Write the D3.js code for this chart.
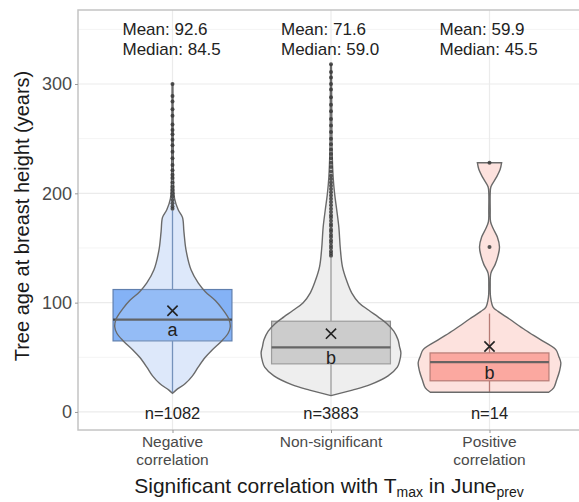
<!DOCTYPE html>
<html>
<head>
<meta charset="utf-8">
<script src="https://cdn.jsdelivr.net/npm/d3@7"></script>
<style>
  body { margin: 0; background: #fff; }
  svg { display: block; font-family: "Liberation Sans", Arial, sans-serif; }
</style>
</head>
<body>
<svg id="chart"></svg>
<script>
// groups and their summary stats
const groups = ['Negative correlation', 'Non-significant', 'Positive correlation'];
const groupTickLines = [['Negative', 'correlation'], ['Non-significant'], ['Positive', 'correlation']];
const sampleSizes = [1082, 3883, 14];
const means = [92.6, 71.6, 59.9];
const medians = [84.5, 59.0, 45.5];
const lowerQuartiles = [65, 44, 28.5];
const upperQuartiles = [112, 83, 54];
const whiskerLows = [17, 15, 18];
const whiskerHighs = [184, 141, 90];
const groupLetters = ['a', 'b', 'b'];
const yTicks = [0, 100, 200, 300];
const yMinorTicks = [50, 150, 250, 350];

const outliers = [
  [186, 188, 191, 194, 197, 200, 203, 206, 210, 214, 217, 221, 226, 232, 238, 244, 249, 254, 258, 263, 271, 277, 284, 289, 300],
  [143, 145, 147, 150, 152, 155, 157, 160, 162, 165, 167, 170, 172, 175, 178, 180, 183, 186, 189, 192, 195, 198, 201, 204,
   207, 210, 213, 216, 220, 224, 228, 232, 236, 240, 245, 250, 256, 262, 268, 275, 281, 288, 295, 300, 306, 311, 318],
  [151, 228]
];

// violin outlines: age (years) and relative density width
const violinAges = [
  [17, 20, 26, 33, 41, 50, 57, 65, 72, 78, 85, 95, 102, 110, 118, 130, 148, 165, 178, 185, 195, 210, 250, 300],
  [15, 20, 25, 33, 41, 46, 54, 60, 66, 74, 81, 87, 93, 100, 109, 120, 133, 150, 169, 185, 200, 215, 240, 280, 318],
  [18, 22, 29, 37, 45, 51, 57, 66, 75, 85, 92, 96, 105, 115, 127, 135, 143, 151, 160, 168, 174, 185, 200, 206, 215, 222, 228]
];
const violinWidths = [
  [0, 0.05, 0.18, 0.28, 0.36, 0.46, 0.56, 0.69, 0.78, 0.81, 0.79, 0.69, 0.6, 0.46, 0.36, 0.26, 0.19, 0.16, 0.14, 0.08, 0.03, 0.015, 0.01, 0.006],
  [0, 0.3, 0.55, 0.8, 0.93, 0.96, 0.98, 0.96, 0.94, 0.88, 0.78, 0.66, 0.53, 0.39, 0.29, 0.22, 0.16, 0.13, 0.11, 0.08, 0.05, 0.03, 0.015, 0.01, 0.006],
  [0.83, 0.9, 0.94, 0.98, 1.0, 0.97, 0.93, 0.72, 0.5, 0.28, 0.12, 0.05, 0.015, 0.01, 0.02, 0.08, 0.12, 0.14, 0.11, 0.05, 0.015, 0.01, 0.01, 0.02, 0.1, 0.15, 0.17]
];

(() => {

  document.addEventListener("DOMContentLoaded", (event) => {
    drawChart();
  });

  function drawChart(){
    const svgWidth = 579;
    const svgHeight = 502;
    const panel = { left: 78, right: 585, top: 10, bottom: 430 };

    const violinFill = ['#dde8fb', '#eeeeee', '#fde2de'];
    const boxFill = ['#84b2f6', '#c5c5c5', '#fa9c93'];
    const boxStroke = ['#5f7fae', '#8c8c8c', '#a8655f'];

    const svg = d3.select('#chart')
    .attr('width', svgWidth)
    .attr('height', svgHeight);

    const xScale = d3.scalePoint()
    .domain(groups)
    .range([172.5, 489.5]);
    const step = xScale.step();

    const yScale = d3.scaleLinear()
    .domain([-16.5, 367.7])
    .range([panel.bottom, panel.top]);

    const widthScale = d3.scaleLinear()
    .domain([0, 1])
    .range([0, step * 0.45]);

    // grid
    svg.append('g').selectAll('line')
    .data(yMinorTicks)
    .enter()
    .append('line')
    .attr('x1', panel.left).attr('x2', panel.right)
    .attr('y1', d => yScale(d)).attr('y2', d => yScale(d))
    .attr('stroke', '#f4f4f4').attr('stroke-width', 1);

    svg.append('g').selectAll('line')
    .data(yTicks)
    .enter()
    .append('line')
    .attr('x1', panel.left).attr('x2', panel.right)
    .attr('y1', d => yScale(d)).attr('y2', d => yScale(d))
    .attr('stroke', '#ebebeb').attr('stroke-width', 1.2);

    svg.append('g').selectAll('line')
    .data(groups)
    .enter()
    .append('line')
    .attr('x1', d => xScale(d)).attr('x2', d => xScale(d))
    .attr('y1', panel.top).attr('y2', panel.bottom)
    .attr('stroke', '#ebebeb').attr('stroke-width', 1.2);

    // panel border
    svg.append('rect')
    .attr('x', panel.left).attr('y', panel.top)
    .attr('width', panel.right - panel.left).attr('height', panel.bottom - panel.top)
    .attr('fill', 'none').attr('stroke', '#c4c4c4').attr('stroke-width', 1.5);

    const violinArea = (i) => d3.area()
    .y(d => yScale(d[0]))
    .x0(d => xScale(groups[i]) - widthScale(d[1]))
    .x1(d => xScale(groups[i]) + widthScale(d[1]))
    .curve(d3.curveCatmullRom);

    groups.forEach((g, i) => {
      const cx = xScale(g);
      const pts = violinAges[i].map((a, j) => [a, violinWidths[i][j]]);
      const half = step * 0.75 / 2;
      const grp = svg.append('g');

      grp.append('path')
      .attr('d', violinArea(i)(pts))
      .attr('fill', violinFill[i]);

      // whiskers
      grp.append('line')
      .attr('x1', cx).attr('x2', cx)
      .attr('y1', yScale(whiskerLows[i])).attr('y2', yScale(lowerQuartiles[i]))
      .attr('stroke', boxStroke[i]).attr('stroke-width', 1.3);
      grp.append('line')
      .attr('x1', cx).attr('x2', cx)
      .attr('y1', yScale(upperQuartiles[i])).attr('y2', yScale(whiskerHighs[i]))
      .attr('stroke', boxStroke[i]).attr('stroke-width', 1.3);

      grp.append('rect')
      .attr('x', cx - half)
      .attr('y', yScale(upperQuartiles[i]))
      .attr('width', half * 2)
      .attr('height', yScale(lowerQuartiles[i]) - yScale(upperQuartiles[i]))
      .attr('fill', boxFill[i])
      .attr('stroke', boxStroke[i]).attr('stroke-width', 1.2);

      grp.append('line')
      .attr('x1', cx - half).attr('x2', cx + half)
      .attr('y1', yScale(medians[i])).attr('y2', yScale(medians[i]))
      .attr('stroke', '#474747').attr('stroke-width', 2.2);

      grp.append('path')
      .attr('d', violinArea(i)(pts))
      .attr('fill', violinFill[i]).attr('fill-opacity', 0.18)
      .attr('stroke', '#6a6a6a').attr('stroke-width', 1.4);

      grp.selectAll('circle')
      .data(outliers[i])
      .enter()
      .append('circle')
      .attr('cx', cx)
      .attr('cy', d => yScale(d))
      .attr('r', 2)
      .attr('fill', '#3a3a3a')
      .attr('fill-opacity', 0.85);

      grp.append('path')
      .attr('d', d3.symbol(d3.symbolX, 70)())
      .attr('transform', `translate(${cx},${yScale(means[i])})`)
      .attr('fill', 'none')
      .attr('stroke', '#222').attr('stroke-width', 1.6);

      grp.append('text')
      .attr('x', cx)
      .attr('y', yScale(medians[i] - 9))
      .attr('dy', '0.36em')
      .attr('text-anchor', 'middle')
      .attr('font-size', 18)
      .attr('fill', '#222')
      .text(groupLetters[i]);

      // annotations
      svg.append('text')
      .attr('x', cx - 50).attr('y', panel.top + 25)
      .attr('font-size', 17).attr('fill', '#222')
      .text(`Mean: ${means[i].toFixed(1)}`);
      svg.append('text')
      .attr('x', cx - 50).attr('y', panel.top + 45)
      .attr('font-size', 17).attr('fill', '#222')
      .text(`Median: ${medians[i].toFixed(1)}`);
      svg.append('text')
      .attr('x', cx).attr('y', yScale(0) + 7)
      .attr('text-anchor', 'middle')
      .attr('font-size', 16.5).attr('fill', '#222')
      .text(`n=${sampleSizes[i]}`);
    });

    // y axis
    const yAxis = svg.append('g')
    .attr('transform', `translate(${panel.left},0)`)
    .call(d3.axisLeft(yScale).tickValues(yTicks).tickSize(3).tickPadding(3));
    yAxis.select('.domain').remove();
    yAxis.selectAll('line').attr('stroke', '#999');
    yAxis.selectAll('text').attr('font-size', 18).attr('fill', '#4a4a4a')
    .attr('font-family', '"Liberation Sans", Arial, sans-serif');

    // x axis
    const xAxis = svg.append('g')
    .attr('transform', `translate(0,${panel.bottom})`)
    .call(d3.axisBottom(xScale).tickSize(3).tickFormat(''));
    xAxis.select('.domain').remove();
    xAxis.selectAll('line').attr('stroke', '#999');

    groups.forEach((g, i) => {
      const t = svg.append('text')
      .attr('x', xScale(g))
      .attr('y', panel.bottom + 17)
      .attr('text-anchor', 'middle')
      .attr('font-size', 15.5)
      .attr('fill', '#4a4a4a');
      groupTickLines[i].forEach((line, k) => {
        t.append('tspan')
        .attr('x', xScale(g))
        .attr('dy', k === 0 ? 0 : 18)
        .text(line);
      });
    });

    // axis titles
    const xt = svg.append('text')
    .attr('x', 329)
    .attr('y', 493)
    .attr('text-anchor', 'middle')
    .attr('font-size', 21)
    .attr('fill', '#1a1a1a');
    xt.append('tspan').text('Significant correlation with T');
    xt.append('tspan').attr('font-size', 14).attr('dy', 4).text('max');
    xt.append('tspan').attr('dy', -4).text(' in June');
    xt.append('tspan').attr('font-size', 14).attr('dy', 4).text('prev');

    svg.append('text')
    .attr('transform', 'translate(29,216) rotate(-90)')
    .attr('text-anchor', 'middle')
    .attr('font-size', 20)
    .attr('fill', '#1a1a1a')
    .text('Tree age at breast height (years)');
  }

})();
</script>
</body>
</html>
